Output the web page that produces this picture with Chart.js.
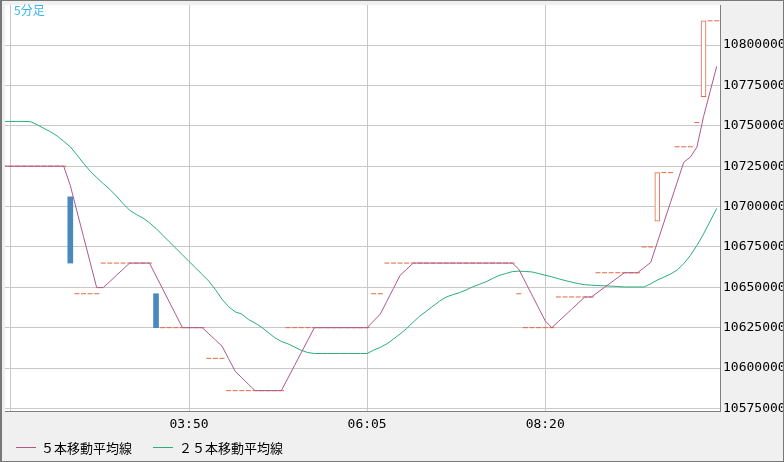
<!DOCTYPE html>
<html>
<head>
<meta charset="utf-8">
<title>5分足</title>
<script src="https://cdn.jsdelivr.net/npm/chart.js@4.4.0/dist/chart.umd.min.js"></script>
<style>
body { margin: 0; background: #fff; }
#wrap { position: relative; width: 784px; height: 462px; }
#frameLabel { position: absolute; left: 14px; top: 3px; font: 12px/14px "Noto Sans CJK JP"; color: #38b4ec; }
.lg-line { position: absolute; top: 447px; width: 20px; height: 1px; }
.lg-text { position: absolute; top: 440px; font: 13px/16px "Noto Sans CJK JP"; color: #000; white-space: nowrap; }
</style>
</head>
<body>
<div id="wrap">
  <canvas id="myChart" width="784" height="462"></canvas>
  <div id="frameLabel">5分足</div>
  <div class="lg-line" style="left:16px;background:#b0588a"></div>
  <div class="lg-text" style="left:41px">５本移動平均線</div>
  <div class="lg-line" style="left:153px;background:#28b078"></div>
  <div class="lg-text" style="left:179px">２５本移動平均線</div>
</div>
<script>
// bar index of the first value in the arrays below (bar 0 sits on the 01:35 grid line)
const firstIndex = -1;

const xTickIndex = [0, 27, 54, 81];
const xTickLabels = ['', '03:50', '06:05', '08:20'];
const yTicks = [10575000, 10600000, 10625000, 10650000, 10675000, 10700000, 10725000, 10750000, 10775000, 10800000];

// close of every 5 minute bar
const closes = [
    10725000, 10725000, 10725000, 10725000, 10725000, 10725000, 10725000, 10725000, 10725000, 10725000,
    10665000, 10646000, 10646000, 10646000, 10646000, 10665000, 10665000, 10665000, 10665000, 10665000,
    10665000, 10665000, 10665000, 10625000, 10625000, 10625000, 10625000, 10625000, 10625000, 10625000,
    10625000, 10606000, 10606000, 10606000, 10586000, 10586000, 10586000, 10586000, 10586000, 10586000,
    10586000, 10586000, 10586000, 10625000, 10625000, 10625000, 10625000, 10625000, 10625000, 10625000,
    10625000, 10625000, 10625000, 10625000, 10625000, 10625000, 10646000, 10646000, 10665000, 10665000,
    10665000, 10665000, 10665000, 10665000, 10665000, 10665000, 10665000, 10665000, 10665000, 10665000,
    10665000, 10665000, 10665000, 10665000, 10665000, 10665000, 10665000, 10665000, 10646000, 10625000,
    10625000, 10625000, 10625000, 10625000, 10644000, 10644000, 10644000, 10644000, 10644000, 10644000,
    10659000, 10659000, 10659000, 10659000, 10659000, 10659000, 10659000, 10675000, 10675000, 10721000,
    10721000, 10721000, 10737000, 10737000, 10737000, 10752000, 10815000, 10815000, 10815000
];

// bars that moved (the rest are flat)
const candleIndex = [9, 22, 98, 105];
const candleOpen = [10706000, 10646000, 10691000, 10768000];

const ma5 = [
    10725000, 10725000, 10725000, 10725000, 10725000, 10725000, 10725000, 10725000, 10725000, 10725000,
    10713000, 10697200, 10681400, 10665600, 10649800, 10649800, 10653600, 10657400, 10661200, 10665000,
    10665000, 10665000, 10665000, 10657000, 10649000, 10641000, 10633000, 10625000, 10625000, 10625000,
    10625000, 10621200, 10617400, 10613600, 10605800, 10598000, 10594000, 10590000, 10586000, 10586000,
    10586000, 10586000, 10586000, 10593800, 10601600, 10609400, 10617200, 10625000, 10625000, 10625000,
    10625000, 10625000, 10625000, 10625000, 10625000, 10625000, 10629200, 10633400, 10641400, 10649400,
    10657400, 10661200, 10665000, 10665000, 10665000, 10665000, 10665000, 10665000, 10665000, 10665000,
    10665000, 10665000, 10665000, 10665000, 10665000, 10665000, 10665000, 10665000, 10661200, 10653200,
    10645200, 10637200, 10629200, 10625000, 10628800, 10632600, 10636400, 10640200, 10644000, 10644000,
    10647000, 10650000, 10653000, 10656000, 10659000, 10659000, 10659000, 10662200, 10665400, 10677800,
    10690200, 10702600, 10715000, 10727400, 10730600, 10736800, 10755600, 10771200, 10786800
];

const ma25 = [
    10752700, 10752700, 10752700, 10752700, 10752500, 10750600, 10748400, 10746300, 10743700, 10740400,
    10737000, 10732000, 10726800, 10722000, 10718000, 10714200, 10710600, 10706400, 10701800, 10697700,
    10695100, 10692900, 10690000, 10686400, 10682300, 10678200, 10674200, 10670100, 10666000, 10662000,
    10657900, 10653800, 10648600, 10642600, 10638000, 10634800, 10633400, 10630100, 10627900, 10625300,
    10622000, 10618800, 10616400, 10615000, 10613000, 10611000, 10609600, 10609000, 10609000, 10609000,
    10609000, 10609000, 10609000, 10609000, 10609000, 10609000, 10611100, 10612800, 10615000, 10618000,
    10621100, 10624500, 10628500, 10632200, 10635300, 10638400, 10641500, 10644000, 10645400, 10646700,
    10648300, 10650300, 10651800, 10653400, 10655400, 10657300, 10658500, 10659700, 10660000, 10659800,
    10659500, 10658500, 10657500, 10656500, 10655300, 10654200, 10653200, 10652300, 10651600, 10651300,
    10651100, 10650900, 10650700, 10650500, 10650200, 10650200, 10650200, 10650200, 10652200, 10654500,
    10656300, 10658200, 10660700, 10664600, 10669700, 10675900, 10683000, 10690900, 10698800
];

const upColor = '#e06848';
const downColor = '#4a88c0';

const toPoints = arr => arr.map((v, i) => ({ x: i + firstIndex, y: v }));

const candles = candleIndex.map((k, j) => ({ x: k, y: [candleOpen[j], closes[k - firstIndex]] }));
const candleUp = candles.map(c => c.y[1] > c.y[0]);

// flat bars are drawn as a short tick at the close
const flatBars = [];
closes.forEach((v, i) => {
    const k = i + firstIndex;
    if (!candleIndex.includes(k)) flatBars.push({ x: k, y: v });
});

// grey panels around the plot and the outer frame
const panelBg = {
    id: 'panelBg',
    beforeDraw(chart) {
        const { ctx, chartArea: a, width, height } = chart;
        ctx.save();
        ctx.fillStyle = '#f0f0f0';
        ctx.fillRect(0, 0, width, height);
        ctx.fillStyle = '#fff';
        ctx.fillRect(a.left, a.top, a.right - a.left, a.bottom - a.top);
        ctx.restore();
    },
    afterDraw(chart) {
        const { ctx, width, height } = chart;
        ctx.save();
        ctx.strokeStyle = '#787878';
        ctx.lineWidth = 1;
        ctx.strokeRect(0.5, 0.5, width - 1, height - 1);
        ctx.beginPath();
        ctx.moveTo(1.5, 0);
        ctx.lineTo(1.5, height);
        ctx.stroke();
        ctx.restore();
    }
};

const axisFont = { family: 'DejaVu Sans Mono', size: 13 };

const ctx = document.getElementById('myChart').getContext('2d');
const myChart = new Chart(ctx, {
    type: 'line',
    data: {
        datasets: [
            {
                label: '５本移動平均線',
                data: toPoints(ma5),
                borderColor: '#b0588a',
                borderWidth: 1,
                pointRadius: 0,
                order: 0
            },
            {
                label: '２５本移動平均線',
                data: toPoints(ma25),
                borderColor: '#28b078',
                borderWidth: 1,
                pointRadius: 0,
                order: 1
            },
            {
                type: 'bar',
                label: 'candles',
                data: candles,
                backgroundColor: candleUp.map(u => u ? '#ffffff' : downColor),
                borderColor: candleUp.map(u => u ? upColor : downColor),
                borderWidth: candleUp.map(u => u ? 1 : 0),
                borderSkipped: false,
                barThickness: 5,
                order: 2
            },
            {
                label: 'flat',
                data: flatBars,
                showLine: false,
                pointStyle: 'line',
                pointRadius: 2.5,
                borderColor: upColor,
                borderWidth: 1,
                order: 3
            }
        ]
    },
    options: {
        responsive: false,
        animation: false,
        layout: { padding: { left: 2, top: 2, right: 0, bottom: 26 } },
        plugins: {
            legend: { display: false },
            tooltip: { enabled: false }
        },
        scales: {
            x: {
                type: 'linear',
                min: -0.9,
                max: 107.5,
                offset: false,
                afterBuildTicks: s => { s.ticks = xTickIndex.map(v => ({ value: v })); },
                afterFit: s => { s.height = 25; s.paddingLeft = 0; s.paddingRight = 0; },
                ticks: {
                    autoSkip: false,
                    maxRotation: 0,
                    padding: 6,
                    color: '#000',
                    font: axisFont,
                    callback: (v, i) => xTickLabels[i]
                },
                grid: { color: '#c8c8c8', drawTicks: false, offset: false },
                border: { color: '#808080' }
            },
            y: {
                position: 'right',
                min: 10573400,
                max: 10824800,
                afterBuildTicks: s => { s.ticks = yTicks.map(v => ({ value: v })); },
                afterFit: s => { s.width = 64; s.paddingTop = 0; s.paddingBottom = 0; },
                ticks: {
                    padding: 3,
                    color: '#000',
                    font: axisFont,
                    callback: v => String(v)
                },
                grid: { color: '#c8c8c8', drawTicks: false },
                border: { color: '#808080' }
            }
        }
    },
    plugins: [panelBg]
});
</script>
</body>
</html>
